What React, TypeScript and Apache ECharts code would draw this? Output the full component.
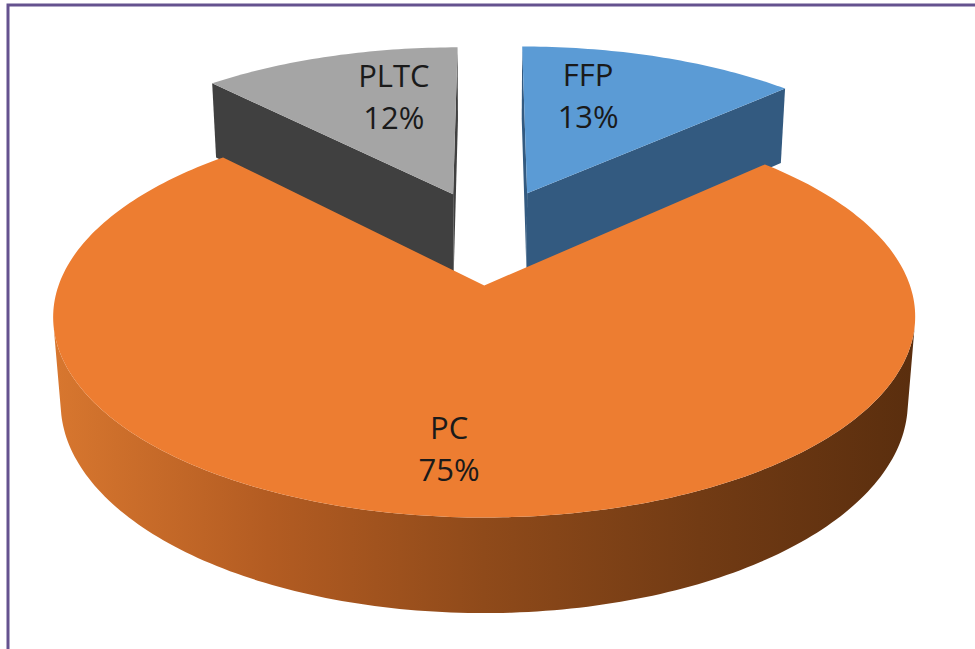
import React, { useEffect, useRef } from "react";
import * as echarts from "echarts";

// ---- data ----
const CATEGORIES = ["FFP", "PC", "PLTC"];
const VALUES = [13, 75, 12];
// explosion of each slice (fraction of radius)
const EXPLODE = [0.25, 0.28, 0.24];
// label anchor relative to slice apex: [angle from 12 o'clock (deg, clockwise), radius fraction]
const LABEL_ANCHORS = [
  [15.6, 0.663],
  [185.6, 0.738],
  [344.9, 0.661],
];

// ---- style ----
const TOP_COLORS = ["#5B9BD5", "#ED7D31", "#A5A5A5"];
const FACE_COLORS = ["#335A80", "#8E4A1A", "#404040"];

// ---- projection (simple perspective camera) ----
const CX = 488;
const CY = 233;
const FX = 2447;
const F = 2472;
const D = 6;
const SA = 0.436;
const CA = 0.9;
const H = 0.225;

function proj(u: number, v: number, h: number): number[] {
  const z = D - v * CA - h * SA;
  return [CX + (u * FX) / z, CY + ((v * SA - h * CA) * F) / z];
}

const RAD = Math.PI / 180;

function App() {
  const ref = useRef<HTMLDivElement>(null);
  useEffect(() => {
    if (!ref.current) return;
    const chart = echarts.init(ref.current, undefined, { renderer: "svg" });
    const total = VALUES.reduce((a, b) => a + b, 0);
    const starts: number[] = [];
    let acc = 0;
    VALUES.forEach((v) => {
      starts.push((acc / total) * 360);
      acc += v;
    });

    const wallGradient = new echarts.graphic.LinearGradient(
      52,
      0,
      915,
      0,
      [
        { offset: 0, color: "#d8772f" },
        { offset: 0.25, color: "#b35c22" },
        { offset: 0.5, color: "#8f4a1a" },
        { offset: 0.75, color: "#723b14" },
        { offset: 1, color: "#5a2e0e" },
      ],
      true
    );

    const renderItem = (params: any, api: any) => {
      const i = params.dataIndex;
      const val = VALUES[i];
      const s = starts[i];
      const e = s + (val / total) * 360;
      const mid = ((s + e) / 2) * RAD;
      const ex = EXPLODE[i];
      const ou = ex * Math.sin(mid);
      const ov = -ex * Math.cos(mid);
      const pt = (thDeg: number, r: number, h: number) =>
        proj(ou + r * Math.sin(thDeg * RAD), ov - r * Math.cos(thDeg * RAD), h);
      const frontness = -Math.cos(mid);
      const base = Math.round(frontness * 10) * 10;
      const children: any[] = [];
      const steps = Math.max(2, Math.ceil(e - s));
      const thetas: number[] = [];
      for (let k = 0; k <= steps; k++) thetas.push(s + ((e - s) * k) / steps);

      const camU = 0;
      const camV = D * CA;

      // outer wall: visible segments only
      let seg: number[] = [];
      const flush = () => {
        if (seg.length >= 2) {
          const top = seg.map((t) => pt(t, 1, 0));
          const bot = seg.map((t) => pt(t, 1, -H)).reverse();
          children.push({
            type: "polygon",
            shape: { points: top.concat(bot) },
            style: { fill: i === 1 ? wallGradient : FACE_COLORS[i] },
            z2: base + 1,
          });
        }
        seg = [];
      };
      for (let k = 0; k < thetas.length; k++) {
        const t = thetas[k];
        const nu = Math.sin(t * RAD);
        const nv = -Math.cos(t * RAD);
        const pu = ou + nu;
        const pv = ov + nv;
        const vis = nu * (camU - pu) + nv * (camV - pv) > 0;
        if (vis) seg.push(t);
        else flush();
      }
      flush();

      // radial faces
      const faceVisible = (nu: number, nv: number) =>
        nu * (camU - ou) + nv * (camV - ov) > 0;
      const sn = [-Math.cos(s * RAD), -Math.sin(s * RAD)];
      const en = [Math.cos(e * RAD), Math.sin(e * RAD)];
      [
        [s, sn],
        [e, en],
      ].forEach(([ang, n]: any) => {
        if (faceVisible(n[0], n[1])) {
          children.push({
            type: "polygon",
            shape: {
              points: [pt(ang, 0, 0), pt(ang, 1, 0), pt(ang, 1, -H), pt(ang, 0, -H)],
            },
            style: { fill: FACE_COLORS[i] },
            z2: base + 2,
          });
        }
      });

      // top face
      children.push({
        type: "polygon",
        shape: { points: [pt(0, 0, 0)].concat(thetas.map((t) => pt(t, 1, 0))) },
        style: { fill: TOP_COLORS[i] },
        z2: base + 3,
      });

      // label
      const la = LABEL_ANCHORS[i];
      const lp = pt(la[0], la[1], 0);
      children.push({
        type: "text",
        x: lp[0],
        y: lp[1],
        style: {
          text: CATEGORIES[i] + "\n" + Math.round((val / total) * 100) + "%",
          fontFamily: "Open Sans",
          fontSize: 31,
          lineHeight: 42,
          fill: "#1a1a1a",
          align: "center",
          verticalAlign: "middle",
        },
        z2: 1000,
      });

      return { type: "group", children };
    };

    chart.setOption({
      animation: false,
      backgroundColor: "#ffffff",
      graphic: [
        {
          type: "rect",
          shape: { x: 8, y: 5, width: 1200, height: 1000 },
          style: { fill: "none", stroke: "#65528f", lineWidth: 3 },
          z: 100,
        },
      ],
      series: [
        {
          type: "custom",
          coordinateSystem: "none",
          renderItem,
          data: VALUES.map((v, i) => ({ name: CATEGORIES[i], value: v })),
          silent: true,
        },
      ],
    });
    return () => chart.dispose();
  }, []);
  return (
    <div
      ref={ref}
      style={{ position: "absolute", left: 0, top: 0, width: 975, height: 649 }}
    />
  );
}

export default App;
